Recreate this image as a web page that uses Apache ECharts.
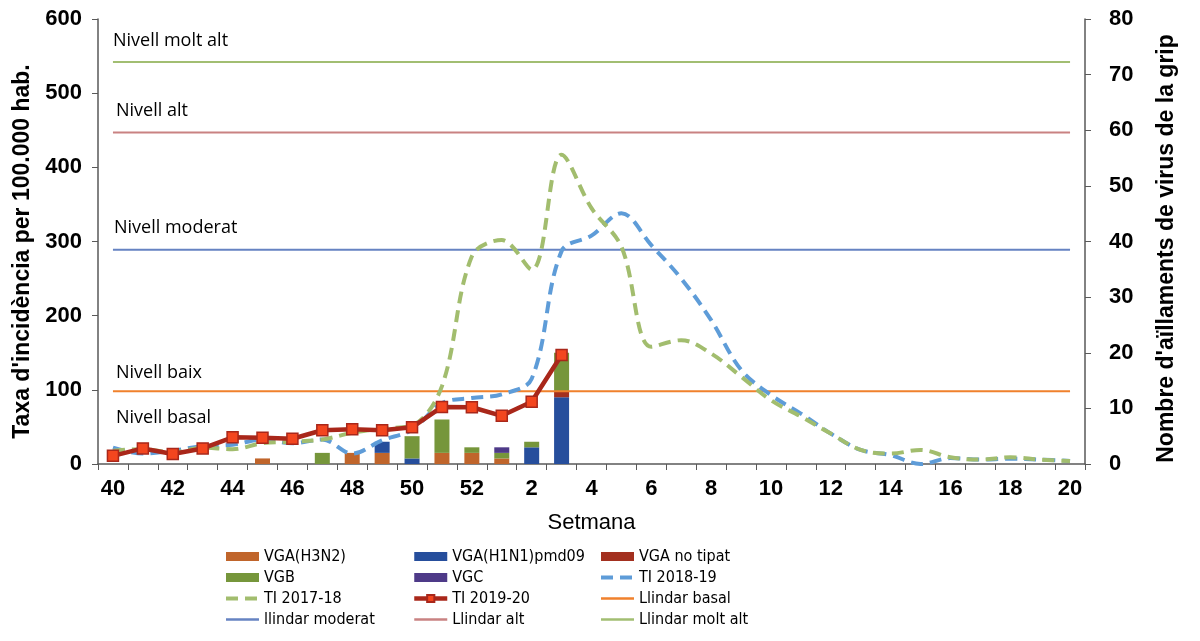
<!DOCTYPE html>
<html>
<head>
<meta charset="utf-8">
<title>Grip 2019-20</title>
<script src="https://cdn.jsdelivr.net/npm/echarts@6/dist/echarts.min.js"></script>
<style>
  html, body { margin: 0; padding: 0; background: #fff; }
  #chart { width: 1200px; height: 641px; }
</style>
</head>
<body>
<div id="chart"></div>
<script>
// weeks of the season (40..52, then 1..20)
var weeks = ['40','41','42','43','44','45','46','47','48','49','50','51','52',
  '1','2','3','4','5','6','7','8','9','10','11','12','13','14','15','16','17','18','19','20'];

// virus isolations per week (right axis), weeks 40 .. 3
var vgaH3N2 = [0,0,0,0,0,1,0,0,2,2,0,2,2,1,0,0];
var vgaH1N1 = [0,0,0,0,0,0,0,0,0,2,1,0,0,0,3,12];
var vgaNoTipat = [0,0,0,0,0,0,0,0,0,0,0,0,0,0,0,1];
var vgb = [0,0,0,0,0,0,0,2,0,0,4,6,1,1,1,7];
var vgc = [0,0,0,0,0,0,0,0,0,0,0,0,0,1,0,0];

// incidence rate per 100.000 hab. (left axis)
var ti1819 = [22,14,18,24,26,33,28,33,14,32,46,82,89,94,115,287,308,338,295,250,194,127,93,68,41,19,12,0,8,6,7,6,4];
var ti1718 = [18,20,16,22,20,28,30,33,42,48,52,105,280,302,262,417,345,293,158,167,149,118,86,64,41,19,14,19,9,6,9,6,4];
var ti1920 = [11,21,13.5,21,36,35.5,34,45.5,47,45.5,49.5,77,76.5,65,84,147];

// epidemic thresholds
var llindarBasal = 98;
var llindarModerat = 289;
var llindarAlt = 447;
var llindarMoltAlt = 542;

function flat(v) {
  return weeks.map(function () { return v; });
}

var chart = echarts.init(document.getElementById('chart'));

var boldAxis = { fontFamily: 'Liberation Sans, Arial, sans-serif', fontWeight: 'bold', fontSize: 22, color: '#000' };
var legendText = { fontFamily: "'Liberation Sans Narrow', 'DejaVu Sans Condensed', sans-serif", fontSize: 16, color: '#000', lineHeight: 17 };
var noteFont = "18px 'Open Sans', sans-serif";

// legend entry for a plain line (no dot in the icon)
function lineItem(name, w) {
  return { name: name, itemStyle: { opacity: 0 }, lineStyle: { width: w } };
}

function bar(name, data, color) {
  return {
    name: name, type: 'bar', stack: 'virus', yAxisIndex: 1,
    barWidth: 15, data: data,
    itemStyle: { color: color }
  };
}
function dashed(name, data, color) {
  return {
    name: name, type: 'line', data: data, smooth: 0.35,
    symbol: 'none', z: 3,
    lineStyle: { color: color, width: 4, type: [12, 7] },
    itemStyle: { color: color }
  };
}
function level(name, v, color) {
  return {
    name: name, type: 'line', data: flat(v), symbol: 'none', z: 2,
    lineStyle: { color: color, width: 2 },
    itemStyle: { color: color }
  };
}

var option = {
  animation: false,
  backgroundColor: '#fff',
  grid: { left: 98, right: 115, top: 19, bottom: 177 },
  xAxis: {
    type: 'category', data: weeks, boundaryGap: true,
    name: 'Setmana', nameLocation: 'middle', nameGap: 48,
    nameTextStyle: { fontFamily: 'Liberation Sans, Arial, sans-serif', fontSize: 22, color: '#000' },
    axisLine: { lineStyle: { color: '#595959', width: 1.5 } },
    axisTick: { show: true, interval: 0, length: 6, lineStyle: { color: '#595959' } },
    axisLabel: Object.assign({ interval: 1, margin: 14 }, boldAxis)
  },
  yAxis: [{
    type: 'value', min: 0, max: 600, interval: 100,
    name: "Taxa d'incidència per 100.000 hab.", nameLocation: 'middle', nameGap: 62, nameRotate: 90,
    nameTextStyle: { fontFamily: 'Liberation Sans, Arial, sans-serif', fontWeight: 'bold', fontSize: 23, color: '#000', padding: [0, 20, 0, 0] },
    axisLine: { show: true, lineStyle: { color: '#595959', width: 1.5 } },
    axisTick: { show: true, length: 6, lineStyle: { color: '#595959' } },
    splitLine: { show: false },
    axisLabel: Object.assign({ margin: 16 }, boldAxis)
  }, {
    type: 'value', min: 0, max: 80, interval: 10, position: 'right',
    name: "Nombre d'aïllaments de virus de la grip", nameLocation: 'middle', nameGap: 70, nameRotate: 90,
    nameTextStyle: { fontFamily: 'Liberation Sans, Arial, sans-serif', fontWeight: 'bold', fontSize: 23, color: '#000', padding: [0, 14, 0, 0] },
    axisLine: { show: true, lineStyle: { color: '#595959', width: 1.5 } },
    axisTick: { show: true, length: 6, lineStyle: { color: '#595959' } },
    splitLine: { show: false },
    axisLabel: Object.assign({ margin: 24 }, boldAxis)
  }],
  legend: [{
    orient: 'vertical', left: 219, top: 543, itemGap: 4, itemWidth: 33, itemHeight: 9,
    textStyle: legendText,
    data: [{ name: 'VGA(H3N2)', icon: 'rect' }, { name: 'VGB', icon: 'rect' },
      lineItem('TI 2017-18', 4), lineItem('llindar moderat', 2.5)]
  }, {
    orient: 'vertical', left: 407, top: 543, itemGap: 4, itemWidth: 33, itemHeight: 9,
    textStyle: legendText,
    data: [{ name: 'VGA(H1N1)pmd09', icon: 'rect' }, { name: 'VGC', icon: 'rect' },
      { name: 'TI 2019-20', lineStyle: { width: 4.5 } }, lineItem('Llindar alt', 2.5)]
  }, {
    orient: 'vertical', left: 594, top: 543, itemGap: 4, itemWidth: 33, itemHeight: 9,
    textStyle: legendText,
    data: [{ name: 'VGA no tipat', icon: 'rect' }, lineItem('TI 2018-19', 4),
      lineItem('Llindar basal', 2.5), lineItem('Llindar molt alt', 2.5)]
  }],
  graphic: [
    { type: 'text', left: 113, top: 32, style: { text: 'Nivell molt alt', font: noteFont, fill: '#000' } },
    { type: 'text', left: 116, top: 102, style: { text: 'Nivell alt', font: noteFont, fill: '#000' } },
    { type: 'text', left: 114, top: 219, style: { text: 'Nivell moderat', font: noteFont, fill: '#000' } },
    { type: 'text', left: 116, top: 364, style: { text: 'Nivell baix', font: noteFont, fill: '#000' } },
    { type: 'text', left: 116, top: 409, style: { text: 'Nivell basal', font: noteFont, fill: '#000' } }
  ],
  series: [
    bar('VGA(H3N2)', vgaH3N2, '#C0652B'),
    bar('VGA(H1N1)pmd09', vgaH1N1, '#264E9C'),
    bar('VGA no tipat', vgaNoTipat, '#A3301F'),
    bar('VGB', vgb, '#76963B'),
    bar('VGC', vgc, '#4E3A88'),
    level('Llindar basal', llindarBasal, '#F0812C'),
    level('llindar moderat', llindarModerat, '#6683C2'),
    level('Llindar alt', llindarAlt, '#C98282'),
    level('Llindar molt alt', llindarMoltAlt, '#A2BE72'),
    dashed('TI 2018-19', ti1819, '#5E9CD8'),
    dashed('TI 2017-18', ti1718, '#A2BD6E'),
    {
      name: 'TI 2019-20', type: 'line', data: ti1920, z: 4,
      symbol: 'rect', symbolSize: 11,
      lineStyle: { color: '#A9271A', width: 4.5 },
      itemStyle: { color: '#F3461F', borderColor: '#A9271A', borderWidth: 1.5 }
    }
  ]
};

chart.setOption(option);
window.onresize = function () { chart.resize(); };
</script>
</body>
</html>
